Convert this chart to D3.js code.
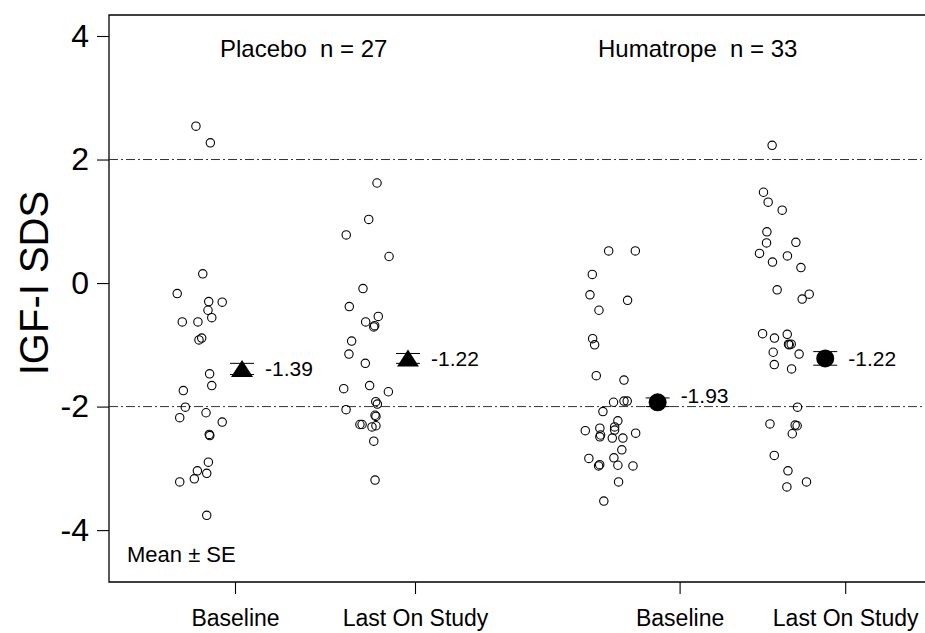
<!DOCTYPE html>
<html>
<head>
<meta charset="utf-8">
<script src="https://cdn.jsdelivr.net/npm/d3@7"></script>
<style>
  html, body { margin: 0; padding: 0; background: #fff; }
  svg { display: block; font-family: "Liberation Sans", Arial, Helvetica, sans-serif; }
  text { white-space: pre; }
</style>
</head>
<body>
<svg id="chart" width="925" height="633"></svg>
<script>
// IGF-I SDS by treatment group: individual values with mean ± SE

const tickLabels = ["Baseline", "Last On Study", "Baseline", "Last On Study"];
const catPos = [1, 2, 3.47, 4.39];
const groupTitles = ["Placebo  n = 27", "Humatrope  n = 33"];
const yTicks = [-4, -2, 0, 2, 4];
const refLines = [-2, 2];

// Placebo, baseline
const placeboBase = [2.54, 2.27, 0.15, -0.17, -0.30, -0.31, -0.44, -0.56, -0.63, -0.63, -0.89, -0.92, -1.47, -1.66,
  -1.74, -2.01, -2.18, -2.10, -2.25, -2.45, -2.47, -2.90, -3.04, -3.08, -3.17, -3.22, -3.76];
const placeboBaseJitter = [-0.217, -0.137, -0.179, -0.321, -0.146, -0.071, -0.150, -0.129, -0.293, -0.206, -0.185, -0.200,
  -0.141, -0.129, -0.287, -0.276, -0.307, -0.161, -0.071, -0.143, -0.140, -0.148, -0.209, -0.157, -0.226, -0.307, -0.157];

// Placebo, last on study
const placeboLast = [1.62, 1.03, 0.78, 0.43, -0.09, -0.38, -0.54, -0.63, -0.71, -0.69, -0.94, -1.15, -1.30, -1.71,
  -1.66, -1.76, -1.92, -1.96, -2.05, -2.14, -2.16, -2.29, -2.29, -2.31, -2.56, -3.19, -2.33];
const placeboLastJitter = [-0.211, -0.257, -0.382, -0.144, -0.289, -0.365, -0.204, -0.274, -0.229, -0.224, -0.352, -0.367,
  -0.276, -0.396, -0.252, -0.148, -0.218, -0.209, -0.383, -0.222, -0.217, -0.294, -0.306, -0.217, -0.229, -0.222, -0.239];

// Humatrope, baseline
const humaBase = [0.52, 0.52, 0.14, -0.19, -0.28, -0.44, -0.90, -1.00, -1.50, -1.57, -1.93, -1.91, -1.91, -2.08, -2.23,
  -2.39, -2.35, -2.49, -2.33, -2.38, -2.51, -2.51, -2.43, -2.46, -2.70, -2.84, -2.83, -2.94, -2.96, -2.95, -2.96, -3.22, -3.53];
const humaBaseJitter = [-0.394, -0.246, -0.485, -0.498, -0.289, -0.448, -0.483, -0.472, -0.463, -0.309, -0.367, -0.309,
  -0.291, -0.426, -0.343, -0.524, -0.443, -0.443, -0.361, -0.361, -0.374, -0.315, -0.244, -0.439, -0.321, -0.504, -0.365,
  -0.444, -0.450, -0.343, -0.259, -0.339, -0.421];

// Humatrope, last on study
const humaLast = [2.23, 1.47, 1.31, 1.18, 0.83, 0.65, 0.66, 0.48, 0.34, 0.44, 0.25, -0.11, -0.26, -0.18, -0.82, -0.89,
  -0.83, -0.99, -0.99, -1.15, -1.12, -1.32, -1.39, -2.01, -2.28, -2.31, -2.44, -2.79, -3.04, -3.22, -3.30, -1.00, -2.30];
const humaLastJitter = [-0.406, -0.454, -0.428, -0.350, -0.435, -0.437, -0.274, -0.476, -0.404, -0.321, -0.246, -0.378,
  -0.239, -0.200, -0.459, -0.393, -0.322, -0.315, -0.300, -0.256, -0.400, -0.394, -0.298, -0.265, -0.418, -0.267, -0.294,
  -0.394, -0.318, -0.215, -0.324, -0.311, -0.278];

// Summary statistics per column
const means = [-1.39, -1.22, -1.93, -1.22];
const stdErr = [0.09, 0.08, 0.07, 0.11];
const meanShift = [0.039, -0.039, -0.122, -0.111];
const meanSymbol = ["triangle", "triangle", "circle", "circle"];

const columns = [
  { values: placeboBase, jitter: placeboBaseJitter },
  { values: placeboLast, jitter: placeboLastJitter },
  { values: humaBase, jitter: humaBaseJitter },
  { values: humaLast, jitter: humaLastJitter }
];

const svg = d3.select("#chart");
const W = 925;
const frame = { left: 109, top: 15, bottom: 582 };

const x = d3.scaleLinear().domain([0, 5]).range([55, 955]);
const y = d3.scaleLinear().domain([-4.84, 4.34]).range([frame.bottom, frame.top]);

// plain hyphen-minus for negative numbers
const fmtInt = d => String(d);
const fmt2 = d => d.toFixed(2);

// Frame: left, top and bottom edges (right edge lies outside the view)
svg.append("path")
  .attr("d", `M${W + 2},${frame.top}H${frame.left}V${frame.bottom}H${W + 2}`)
  .attr("fill", "none").attr("stroke", "#000").attr("stroke-width", 1.3);

// Normal range reference lines
svg.append("g").selectAll("line").data(refLines).join("line")
  .attr("x1", frame.left).attr("x2", W)
  .attr("y1", d => y(d)).attr("y2", d => y(d))
  .attr("stroke", "#333").attr("stroke-width", 1)
  .attr("stroke-dasharray", "9,3,2,3");

// Y axis
const yAxis = svg.append("g").attr("transform", `translate(${frame.left},0)`)
  .call(d3.axisLeft(y).tickValues(yTicks).tickSize(12).tickSizeOuter(0).tickPadding(8).tickFormat(fmtInt));
yAxis.select(".domain").remove();
yAxis.selectAll("line").attr("stroke", "#000").attr("stroke-width", 1.1);
yAxis.selectAll("text").attr("font-size", 32).attr("fill", "#000").attr("font-family", null);

// X axis
const xAxis = svg.append("g").attr("transform", `translate(0,${frame.bottom})`)
  .call(d3.axisBottom(x).tickValues(catPos).tickSize(12).tickSizeOuter(0).tickPadding(16)
    .tickFormat((d, i) => tickLabels[i]));
xAxis.select(".domain").remove();
xAxis.selectAll("line").attr("stroke", "#000").attr("stroke-width", 1.1);
xAxis.selectAll("text").attr("font-size", 23).attr("fill", "#000").attr("font-family", null);

// Y axis title
svg.append("text")
  .attr("transform", `translate(48,${y(0)}) rotate(-90)`)
  .attr("text-anchor", "middle")
  .attr("font-size", 40)
  .text("IGF-I SDS");

// Group headers
svg.append("g").selectAll("text").data(groupTitles).join("text")
  .attr("x", (d, i) => [220, 598][i])
  .attr("y", 57)
  .attr("font-size", 24)
  .text(d => d);

// Individual values
columns.forEach((col, ci) => {
  svg.append("g").selectAll("circle").data(col.values).join("circle")
    .attr("cx", (d, i) => x(catPos[ci] + col.jitter[i]))
    .attr("cy", d => y(d))
    .attr("r", 4.2)
    .attr("fill", "none")
    .attr("stroke", "#000")
    .attr("stroke-width", 1.1);
});

// Mean ± SE markers
const summary = means.map((m, i) => ({ m, se: stdErr[i], cx: x(catPos[i] + meanShift[i]), sym: meanSymbol[i] }));
const sg = svg.append("g").selectAll("g").data(summary).join("g");
sg.append("line")
  .attr("x1", d => d.cx).attr("x2", d => d.cx)
  .attr("y1", d => y(d.m - d.se)).attr("y2", d => y(d.m + d.se))
  .attr("stroke", "#000").attr("stroke-width", 1);
sg.each(function (d) {
  const g = d3.select(this);
  [d.m - d.se, d.m + d.se].forEach(v => {
    g.append("line")
      .attr("x1", d.cx - 12).attr("x2", d.cx + 12)
      .attr("y1", y(v)).attr("y2", y(v))
      .attr("stroke", "#000").attr("stroke-width", 1);
  });
  if (d.sym === "circle") {
    g.append("circle").attr("cx", d.cx).attr("cy", y(d.m)).attr("r", 9).attr("fill", "#000");
  } else {
    const cy = y(d.m);
    g.append("path")
      .attr("d", `M${d.cx},${cy - 9}L${d.cx + 11},${cy + 8}L${d.cx - 11},${cy + 8}Z`)
      .attr("fill", "#000");
  }
});
// value labels; the one sitting on the -2 reference line is lifted clear of it
sg.append("text")
  .attr("x", d => d.cx + 23)
  .attr("y", d => y(d.m) - (Math.abs(d.m + 2) < 0.1 ? 7 : 0))
  .attr("dy", "0.35em")
  .attr("font-size", 21)
  .text(d => fmt2(d.m));

// Legend note
svg.append("text")
  .attr("x", 127).attr("y", 562)
  .attr("font-size", 22)
  .text("Mean ± SE");
</script>
</body>
</html>
